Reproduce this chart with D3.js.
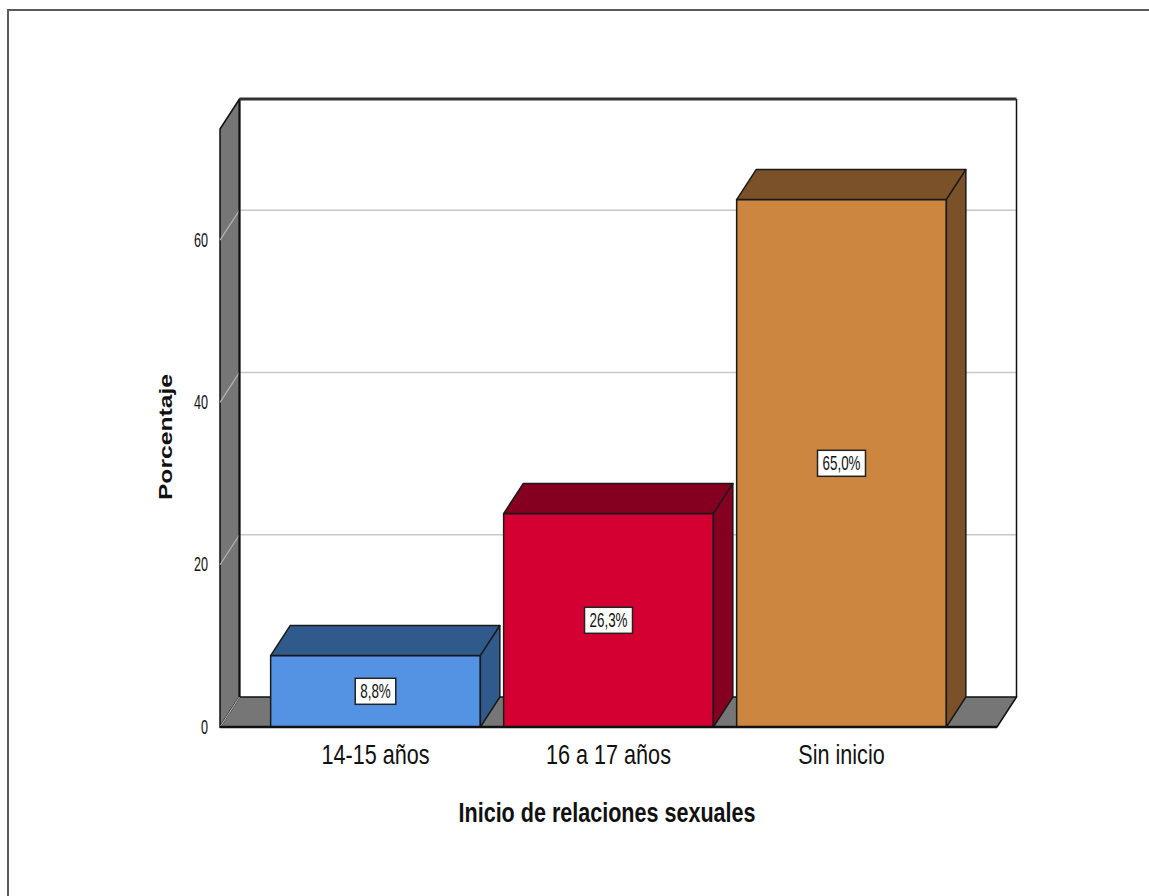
<!DOCTYPE html>
<html>
<head>
<meta charset="utf-8">
<script src="https://cdn.jsdelivr.net/npm/d3@7"></script>
<style>
  html, body { margin: 0; padding: 0; background: #fff; }
  svg { display: block; }
</style>
</head>
<body>
<script>
// ---- data ----
const categories = ["14-15 años", "16 a 17 años", "Sin inicio"];
const values = [8.8, 26.3, 65.0];
const valueLabels = ["8,8%", "26,3%", "65,0%"];
const yTicks = [0, 20, 40, 60];
const yDomain = [0, 73.7];
const frontColors = ["#5493e3", "#d50032", "#cc8640"];
const darkColors = ["#315a8c", "#850020", "#7b5129"];
const xTitle = "Inicio de relaciones sexuales";
const yTitle = "Porcentaje";

// ---- layout ----
const W = 1149, H = 896;
const plotLeft = 220, plotRight = 997, plotBottom = 727, plotTop = 129;
const dx = 19.5, dy = -30;
const wallGray = "#767676";

const svg = d3.select("body").append("svg").attr("width", W).attr("height", H);

// outer frame
svg.append("path").attr("d", `M8,${H} L8,10 L${W},10`)
  .attr("fill", "none").attr("stroke", "#5a5a5a").attr("stroke-width", 2);

const y = d3.scaleLinear().domain(yDomain).range([plotBottom, plotTop]);
const x = d3.scaleBand().domain(categories).range([259, 958])
  .paddingInner(0.1).paddingOuter(0.05);

const y0 = y(0), yTop = y(yDomain[1]);

// back wall
svg.append("rect")
  .attr("x", plotLeft + dx).attr("y", yTop + dy)
  .attr("width", plotRight - plotLeft).attr("height", y0 - yTop)
  .attr("fill", "#fff");

// back gridlines
svg.append("g").selectAll("line").data(yTicks.filter(t => t > 0)).join("line")
  .attr("x1", plotLeft + dx).attr("x2", plotRight + dx)
  .attr("y1", d => y(d) + dy).attr("y2", d => y(d) + dy)
  .attr("stroke", "#c8c8c8").attr("stroke-width", 1.5);

// left wall
svg.append("path")
  .attr("d", `M${plotLeft},${y0} L${plotLeft},${yTop} L${plotLeft + dx},${yTop + dy} L${plotLeft + dx},${y0 + dy} Z`)
  .attr("fill", wallGray).attr("stroke", "#111").attr("stroke-width", 1.5).attr("stroke-linejoin", "round");

// left wall gridlines
svg.append("g").selectAll("line").data(yTicks.filter(t => t > 0)).join("line")
  .attr("x1", plotLeft).attr("x2", plotLeft + dx)
  .attr("y1", d => y(d)).attr("y2", d => y(d) + dy)
  .attr("stroke", "#b4b4b4").attr("stroke-width", 1.2);

// floor
svg.append("path")
  .attr("d", `M${plotLeft},${y0} L${plotRight},${y0} L${plotRight + dx},${y0 + dy} L${plotLeft + dx},${y0 + dy} Z`)
  .attr("fill", wallGray).attr("stroke", "#111").attr("stroke-width", 1.5).attr("stroke-linejoin", "round");
svg.append("line")
  .attr("x1", plotLeft).attr("x2", plotLeft + dx).attr("y1", y0).attr("y2", y0 + dy)
  .attr("stroke", "#b4b4b4").attr("stroke-width", 1.2);

// back wall edges
svg.append("path")
  .attr("d", `M${plotLeft + dx},${y0 + dy} L${plotLeft + dx},${yTop + dy}`)
  .attr("stroke", "#111").attr("stroke-width", 2).attr("fill", "none");
svg.append("path")
  .attr("d", `M${plotRight + dx},${y0 + dy} L${plotRight + dx},${yTop + dy}`)
  .attr("stroke", "#111").attr("stroke-width", 1.5).attr("fill", "none");
svg.append("path")
  .attr("d", `M${plotLeft + dx},${yTop + dy} L${plotRight + dx},${yTop + dy}`)
  .attr("stroke", "#333").attr("stroke-width", 3).attr("fill", "none");

// bars
const bw = x.bandwidth();
const bars = svg.append("g").selectAll("g").data(categories).join("g");
bars.append("rect")
  .attr("x", d => x(d)).attr("y", (d, i) => y(values[i]))
  .attr("width", bw).attr("height", (d, i) => y0 - y(values[i]))
  .attr("fill", (d, i) => frontColors[i]).attr("stroke", "#1a1a1a").attr("stroke-width", 1.5);
bars.append("path")
  .attr("d", (d, i) => {
    const xl = x(d), yt = y(values[i]);
    return `M${xl},${yt} L${xl + dx},${yt + dy} L${xl + bw + dx},${yt + dy} L${xl + bw},${yt} Z`;
  })
  .attr("fill", (d, i) => darkColors[i]).attr("stroke", "#1a1a1a").attr("stroke-width", 1.5).attr("stroke-linejoin", "round");
bars.append("path")
  .attr("d", (d, i) => {
    const xr = x(d) + bw, yt = y(values[i]);
    return `M${xr},${yt} L${xr + dx},${yt + dy} L${xr + dx},${y0 + dy} L${xr},${y0} Z`;
  })
  .attr("fill", (d, i) => darkColors[i]).attr("stroke", "#1a1a1a").attr("stroke-width", 1.5).attr("stroke-linejoin", "round");

// front floor edge
svg.append("line")
  .attr("x1", plotLeft).attr("x2", plotRight).attr("y1", y0).attr("y2", y0)
  .attr("stroke", "#111").attr("stroke-width", 2.5);

// data labels
const lblSX = 0.67, lblFS = 20;
bars.each(function(d, i) {
  const g = d3.select(this);
  const cx = x(d) + bw / 2, cy = (y(values[i]) + y0) / 2;
  const t = g.append("text")
    .attr("transform", `translate(${cx},${cy}) scale(${lblSX},1)`)
    .attr("text-anchor", "middle").attr("dominant-baseline", "central")
    .attr("font-family", "Arial, 'Liberation Sans', sans-serif")
    .attr("font-size", lblFS).attr("fill", "#111")
    .text(valueLabels[i]);
  const tw = t.node().getComputedTextLength() * lblSX;
  g.insert("rect", "text")
    .attr("x", cx - tw / 2 - 5).attr("y", cy - 13)
    .attr("width", tw + 10).attr("height", 26)
    .attr("fill", "#fff").attr("stroke", "#222").attr("stroke-width", 1.5);
});

// y tick labels
svg.append("g").selectAll("text").data(yTicks).join("text")
  .attr("transform", d => `translate(208,${y(d)}) scale(0.63,1)`)
  .attr("text-anchor", "end").attr("dominant-baseline", "central")
  .attr("font-family", "Arial, 'Liberation Sans', sans-serif")
  .attr("font-size", 20).attr("fill", "#111")
  .text(d => d);

// x category labels
svg.append("g").selectAll("text").data(categories).join("text")
  .attr("transform", d => `translate(${x(d) + bw / 2},764) scale(0.8,1)`)
  .attr("text-anchor", "middle")
  .attr("font-family", "Arial, 'Liberation Sans', sans-serif")
  .attr("font-size", 27).attr("fill", "#111")
  .text(d => d);

// x title
svg.append("text")
  .attr("transform", `translate(607,822) scale(0.77,1)`)
  .attr("text-anchor", "middle")
  .attr("font-family", "Arial, 'Liberation Sans', sans-serif")
  .attr("font-weight", "bold").attr("font-size", 28).attr("fill", "#111")
  .text(xTitle);

// y title
svg.append("text")
  .attr("transform", `translate(172,437) rotate(-90) scale(1.3,1)`)
  .attr("text-anchor", "middle")
  .attr("font-family", "Arial, 'Liberation Sans', sans-serif")
  .attr("font-weight", "bold").attr("font-size", 19).attr("fill", "#111")
  .text(yTitle);
</script>
</body>
</html>
